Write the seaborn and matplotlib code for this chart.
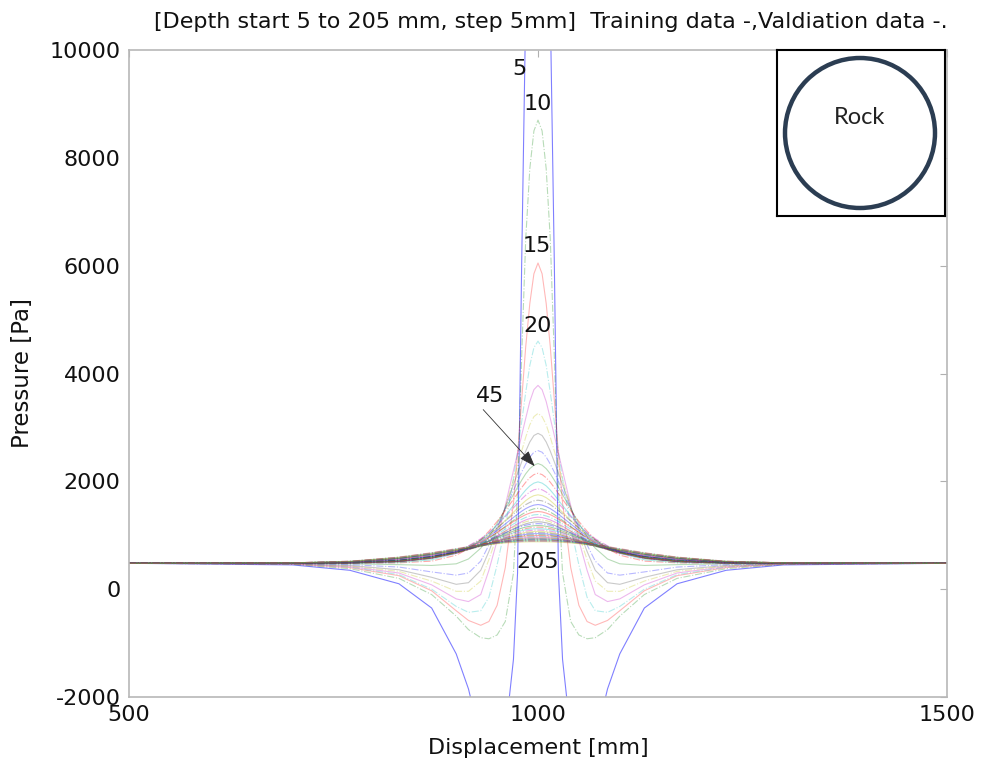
import matplotlib
matplotlib.use("Agg")
import matplotlib.pyplot as plt
import seaborn as sns
import pandas as pd
from matplotlib.patches import Circle

# ---------------- data ----------------
center_mm = 1000
offsets_mm = [0, 5, 10, 15, 20, 25, 30, 40, 50, 60, 70, 85, 100, 130, 170, 230, 300, 500]
depths_mm = [5, 10, 15, 20, 25, 30, 35, 40, 45, 50, 55, 60, 65, 70, 75, 80, 85, 90, 95, 100,
             105, 110, 115, 120, 125, 130, 135, 140, 145, 150, 155, 160, 165, 170, 175, 180,
             185, 190, 195, 200, 205]

# pressure [Pa] at center_mm +/- offsets_mm, one list per depth
p_005 = [16000, 15500, 13500, 10800, 6000, 300, -1300, -2700, -3400, -3400, -2800, -1850, -1200, -350, 100, 350, 450, 480]
p_010 = [8700, 8500, 7800, 6500, 4300, 1800, 300, -600, -850, -920, -900, -750, -500, -100, 200, 380, 460, 480]
p_015 = [6050, 5850, 5300, 4500, 3500, 2500, 1600, 400, -300, -600, -670, -580, -400, -30, 250, 400, 465, 480]
p_020 = [4600, 4480, 4150, 3650, 3100, 2550, 2050, 1150, 450, -150, -400, -430, -320, 0, 270, 410, 470, 480]
p_025 = [3780, 3700, 3480, 3170, 2850, 2520, 2200, 1550, 900, 350, -100, -230, -180, 80, 300, 420, 470, 480]
p_030 = [3260, 3200, 3050, 2820, 2560, 2300, 2030, 1520, 1000, 550, 150, -40, -40, 150, 330, 430, 470, 480]
p_035 = [2890, 2850, 2730, 2560, 2360, 2150, 1940, 1520, 1100, 700, 350, 120, 90, 220, 360, 440, 475, 480]
p_040 = [2570, 2540, 2450, 2320, 2170, 2000, 1830, 1500, 1150, 820, 520, 300, 260, 320, 410, 455, 476, 480]
p_045 = [2330, 2300, 2235, 2140, 2020, 1890, 1755, 1490, 1220, 970, 760, 560, 470, 440, 455, 470, 478, 480]
p_050 = [2150, 2125, 2067, 1983, 1883, 1774, 1666, 1457, 1255, 1075, 920, 750, 630, 520, 488, 480, 480, 480]
p_055 = [1990, 1967, 1915, 1839, 1748, 1650, 1552, 1363, 1190, 1039, 910, 770, 665, 545, 492, 480, 480, 480]
p_060 = [1860, 1843, 1802, 1743, 1670, 1591, 1508, 1343, 1184, 1046, 935, 804, 701, 577, 508, 484, 480, 480]
p_065 = [1750, 1734, 1697, 1642, 1575, 1502, 1426, 1274, 1128, 1001, 899, 778, 683, 569, 505, 484, 480, 480]
p_070 = [1650, 1638, 1609, 1568, 1515, 1457, 1393, 1264, 1135, 1018, 913, 796, 702, 585, 515, 486, 480, 480]
p_075 = [1570, 1559, 1532, 1494, 1445, 1390, 1330, 1210, 1090, 981, 883, 774, 687, 578, 513, 485, 480, 480]
p_080 = [1500, 1490, 1464, 1429, 1383, 1332, 1276, 1163, 1051, 949, 857, 755, 674, 572, 511, 485, 480, 480]
p_085 = [1440, 1432, 1411, 1382, 1344, 1301, 1253, 1152, 1051, 955, 869, 768, 686, 586, 518, 488, 480, 480]
p_090 = [1385, 1378, 1358, 1331, 1295, 1254, 1209, 1114, 1018, 928, 847, 752, 675, 580, 516, 487, 480, 480]
p_095 = [1335, 1328, 1309, 1284, 1250, 1211, 1168, 1079, 989, 903, 826, 737, 664, 574, 514, 487, 480, 480]
p_100 = [1290, 1284, 1270, 1250, 1221, 1189, 1152, 1071, 990, 909, 836, 747, 678, 585, 521, 488, 480, 480]
p_105 = [1250, 1245, 1231, 1212, 1185, 1154, 1119, 1042, 965, 888, 819, 734, 669, 580, 519, 488, 480, 480]
p_110 = [1215, 1211, 1200, 1186, 1164, 1138, 1108, 1046, 980, 914, 848, 767, 701, 605, 531, 492, 481, 480]
p_115 = [1180, 1177, 1166, 1152, 1131, 1107, 1079, 1019, 956, 893, 830, 753, 690, 599, 529, 492, 481, 480]
p_120 = [1150, 1147, 1137, 1123, 1103, 1080, 1053, 996, 936, 875, 815, 741, 681, 594, 527, 491, 481, 480]
p_125 = [1122, 1119, 1112, 1101, 1085, 1066, 1044, 994, 939, 884, 830, 759, 698, 608, 538, 495, 483, 480]
p_130 = [1096, 1094, 1087, 1076, 1061, 1042, 1021, 973, 920, 868, 816, 748, 689, 603, 535, 495, 482, 480]
p_135 = [1072, 1070, 1063, 1053, 1038, 1020, 1000, 954, 903, 853, 803, 738, 681, 598, 533, 494, 482, 480]
p_140 = [1050, 1048, 1044, 1036, 1024, 1010, 993, 953, 908, 862, 816, 754, 697, 611, 543, 497, 483, 480]
p_145 = [1030, 1028, 1025, 1016, 1005, 992, 975, 937, 893, 849, 805, 744, 689, 607, 541, 497, 483, 480]
p_150 = [1011, 1009, 1006, 998, 987, 974, 958, 921, 878, 836, 793, 735, 682, 602, 538, 496, 483, 480]
p_155 = [994, 993, 990, 985, 978, 968, 957, 927, 891, 855, 819, 768, 716, 634, 562, 506, 485, 480]
p_160 = [978, 977, 975, 970, 962, 953, 942, 913, 878, 844, 809, 759, 709, 629, 560, 505, 485, 480]
p_165 = [963, 962, 960, 955, 948, 939, 928, 900, 866, 833, 799, 750, 702, 625, 557, 504, 485, 480]
p_170 = [950, 950, 948, 945, 941, 934, 927, 908, 883, 856, 828, 783, 739, 659, 579, 513, 487, 480]
p_175 = [938, 938, 936, 933, 929, 923, 915, 897, 873, 846, 819, 775, 732, 654, 576, 512, 487, 480]
p_180 = [926, 926, 924, 922, 917, 911, 904, 886, 862, 837, 810, 768, 725, 649, 574, 511, 487, 480]
p_185 = [915, 915, 913, 911, 906, 901, 893, 876, 853, 828, 802, 761, 719, 645, 571, 510, 487, 480]
p_190 = [905, 905, 904, 903, 901, 897, 892, 882, 867, 850, 829, 790, 752, 676, 595, 518, 489, 480]
p_195 = [896, 896, 895, 894, 892, 888, 884, 873, 859, 842, 821, 784, 746, 671, 592, 517, 488, 480]
p_200 = [887, 887, 886, 885, 883, 879, 875, 865, 850, 834, 814, 777, 740, 667, 590, 517, 488, 480]
p_205 = [879, 879, 878, 877, 875, 871, 867, 857, 843, 827, 807, 771, 735, 664, 588, 516, 488, 480]

profiles = [p_005, p_010, p_015, p_020, p_025, p_030, p_035, p_040, p_045, p_050, p_055,
            p_060, p_065, p_070, p_075, p_080, p_085, p_090, p_095, p_100, p_105, p_110,
            p_115, p_120, p_125, p_130, p_135, p_140, p_145, p_150, p_155, p_160, p_165,
            p_170, p_175, p_180, p_185, p_190, p_195, p_200, p_205]

curve_labels = ["5", "10", "15", "20", "45", "205"]
label_pos = [(977, 9650), (1000, 9000), (999, 6370), (1000, 4890), (941, 3590), (1000, 500)]

x_ticks = [500, 1000, 1500]
y_ticks = [-2000, 0, 2000, 4000, 6000, 8000, 10000]

# ---------------- build long table ----------------
rows = []
for depth, prof in zip(depths_mm, profiles):
    xs = [center_mm - o for o in offsets_mm[::-1]] + [center_mm + o for o in offsets_mm[1:]]
    ys = prof[::-1] + prof[1:]
    kind = "Training" if depths_mm.index(depth) % 2 == 0 else "Validation"
    for x, y in zip(xs, ys):
        rows.append({"depth": depth, "x": x, "p": y, "kind": kind})
df = pd.DataFrame(rows)

# ---------------- style ----------------
sns.set_style("white")
plt.rcParams["font.family"] = ["DejaVu Sans"]
plt.rcParams["axes.unicode_minus"] = False

fig = plt.figure(figsize=(9.81, 7.60), dpi=100)
ax = fig.add_axes([129 / 981, 1 - 697 / 760, 818 / 981, 647 / 760])

matlab_colors = [(0, 0, 1), (0, 0.5, 0), (1, 0, 0), (0, 0.75, 0.75),
                 (0.75, 0, 0.75), (0.75, 0.75, 0), (0.25, 0.25, 0.25)]

for i, depth in enumerate(depths_mm):
    sub = df[df.depth == depth]
    ls = "-" if sub.kind.iloc[0] == "Training" else "-."
    if i == 0:
        alpha = 0.5
    elif i < 9:
        alpha = 0.28
    else:
        alpha = 0.34
    sns.lineplot(data=sub, x="x", y="p", ax=ax, color=matlab_colors[i % 7],
                 linestyle=ls, lw=0.8, alpha=alpha, legend=False,
                 estimator=None, sort=False)

ax.set_xlim(500, 1500)
ax.set_ylim(-2000, 10000)
ax.set_xticks(x_ticks)
ax.set_yticks(y_ticks)
ax.tick_params(direction="in", length=5, width=0.8, color="#b0b0b0",
               top=True, right=True, labelsize=16, labelcolor="#111111", pad=6)
for s in ax.spines.values():
    s.set_color("#b8b8b8")
    s.set_linewidth(1.2)
ax.set_xlabel("Displacement [mm]", fontsize=16, color="#111111", labelpad=9)
ax.set_ylabel("Pressure [Pa]", fontsize=16.5, color="#111111")
ax.yaxis.set_label_coords(-95 / 818, 0.5)

fig.text(551 / 981, 1 - 22 / 760,
         "[Depth start 5 to 205 mm, step 5mm]  Training data -,Valdiation data -.",
         ha="center", va="center", fontsize=16, color="#111111")

for txt, (lx, ly) in zip(curve_labels, label_pos):
    ax.text(lx, ly, txt, ha="center", va="center", fontsize=16, color="#111111", zorder=5)

ax.annotate("", xy=(996, 2280), xytext=(933, 3330),
            arrowprops=dict(arrowstyle="-|>,head_length=0.7,head_width=0.25",
                            color="#333333", lw=0.6, shrinkA=0, shrinkB=0,
                            mutation_scale=14))

# inset with Rock symbol
ins = fig.add_axes([777 / 981, 1 - 216 / 760, 168 / 981, 166 / 760])
ins.set_xlim(0, 168)
ins.set_ylim(0, 166)
ins.set_xticks([])
ins.set_yticks([])
for s in ins.spines.values():
    s.set_color("black")
    s.set_linewidth(1.5)
ins.set_facecolor("white")
ins.add_patch(Circle((83, 83), 75, fill=False, ec="#2b3d52", lw=3.2))
ins.text(83, 99, "Rock", ha="center", va="center", fontsize=17,
         family=["Lato", "DejaVu Sans"], color="#222222")

fig.savefig("out.png", dpi=100)
